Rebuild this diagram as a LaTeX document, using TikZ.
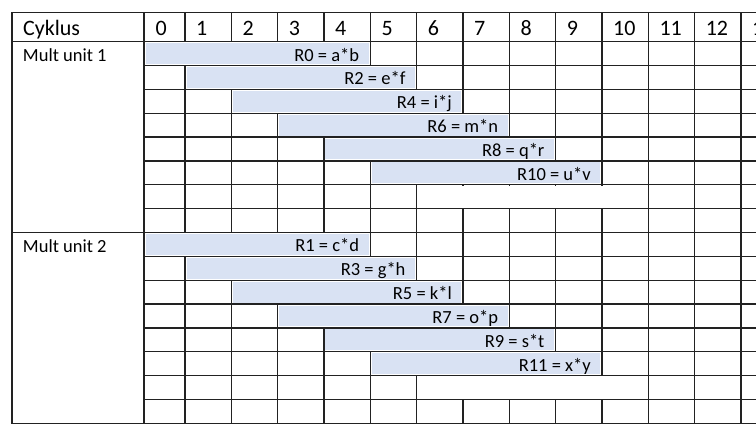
\documentclass[tikz,border=0pt]{standalone}
\usepackage{fontspec}
\setmainfont{Carlito}
\definecolor{gridc}{HTML}{222222}
\definecolor{barc}{HTML}{D9E2F3}
\tikzset{
  gridline/.style={draw=gridc, line width=1.25pt, line cap=rect},
  hdr/.style={anchor=base west, inner sep=0pt, font=\fontsize{22}{25}\selectfont},
  rowlabel/.style={anchor=base west, inner sep=0pt, font=\fontsize{18.5}{21}\selectfont},
  barlabel/.style={anchor=base east, inner sep=0pt, font=\fontsize{18.5}{21}\selectfont},
  barfill/.style={fill=barc},
  gapfill/.style={fill=white},
}
% row #1 (1..16), columns #2 .. #3-1, label #4, name #5
\newcommand\gbar[5]{%
  \pgfmathsetmacro\xa{#2==0 ? 144 : 185+(#2-1)*46.33}%
  \pgfmathsetmacro\xb{185+(#3-1)*46.33}%
  \pgfmathsetmacro\ya{41.7+(#1-1)*23.85}%
  \pgfmathsetmacro\yb{\ya+23.85}%
  \path[gapfill] (\xa+0.7,\ya+0.7) rectangle (\xb-0.7,\yb-0.7);
  \path[barfill] (\xa+1.5,\ya+1.5) rectangle (\xb-1.5,\yb-1.5);
  \node[barlabel] (#5) at (\xb-11,\yb-4.5) {#4};
}
\newcommand\gmerge[3]{%
  \pgfmathsetmacro\xa{185+(#2-1)*46.33}%
  \pgfmathsetmacro\xb{185+(#3-1)*46.33}%
  \pgfmathsetmacro\ya{41.7+(#1-1)*23.85}%
  \pgfmathsetmacro\yb{\ya+23.85}%
  \path[gapfill] (\xa+0.7,\ya+0.7) rectangle (\xb-0.7,\yb-0.7);
}
\begin{document}
\begin{tikzpicture}[x=1pt,y=-1pt]
\useasboundingbox (0,0) rectangle (756,437);
\clip (0,0) rectangle (756,437);
% grid
\draw[gridline] (12,12.7) -- (760,12.7);
\draw[gridline] (12,41.7) -- (144,41.7);
\draw[gridline] (12,232.5) -- (144,232.5);
\draw[gridline] (12,423.3) -- (144,423.3);
\foreach \i in {1,...,17} {
  \draw[gridline] (144,{41.7+(\i-1)*23.85}) -- (760,{41.7+(\i-1)*23.85});
}
\draw[gridline] (12,12.7) -- (12,423.3);
\draw[gridline] (144,12.7) -- (144,423.3);
\foreach \k in {1,...,14} {
  \draw[gridline] ({185+(\k-1)*46.33},12.7) -- ({185+(\k-1)*46.33},423.3);
}
% header
\node[hdr] (cyk) at (23,35) {Cyklus};
\node[hdr] (h0) at (155.5,35) {0};
\foreach \k in {1,...,13} {
  \node[hdr] (h\k) at ({185+(\k-1)*46.33+11},35) {\k};
}
% row labels
\node[rowlabel] (m1) at (22.8,61.2) {Mult unit 1};
\node[rowlabel] (m2) at (22.8,252.0) {Mult unit 2};
% unit 1
\gbar{1}{0}{5}{R0 = a*b}{r0}
\gbar{2}{1}{6}{R2 = e*f}{r2}
\gbar{3}{2}{7}{R4 = i*j}{r4}
\gbar{4}{3}{8}{R6 = m*n}{r6}
\gbar{5}{4}{9}{R8 = q*r}{r8}
\gbar{6}{5}{10}{R10 = u*v}{r10}
\gmerge{7}{6}{11}
% unit 2
\gbar{9}{0}{5}{R1 = c*d}{r1}
\gbar{10}{1}{6}{R3 = g*h}{r3}
\gbar{11}{2}{7}{R5 = k*l}{r5}
\gbar{12}{3}{8}{R7 = o*p}{r7}
\gbar{13}{4}{9}{R9 = s*t}{r9}
\gbar{14}{5}{10}{R11 = x*y}{r11}
\gmerge{15}{6}{11}
\end{tikzpicture}
\end{document}
